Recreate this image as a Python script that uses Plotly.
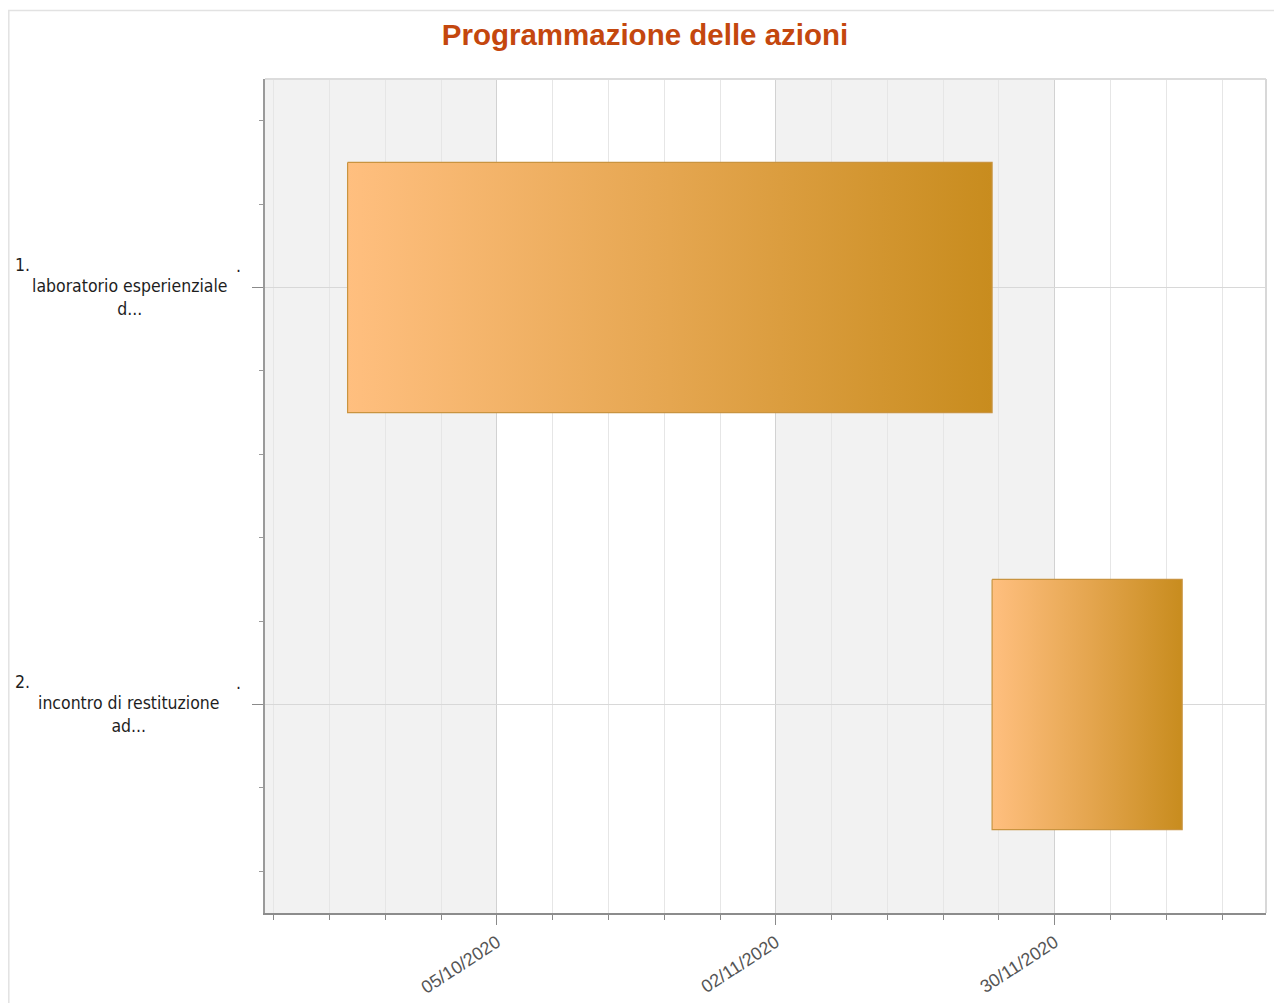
import plotly.graph_objects as go

# ---- data ----
task_numbers = ["1.", "2."]
task_labels = ["laboratorio esperienziale<br>d...", "incontro di restituzione<br>ad..."]
task_starts = ["2020-09-20 00:00", "2020-11-23 17:00"]
task_ends = ["2020-11-23 17:00", "2020-12-12 19:00"]
major_ticks = ["2020-10-05", "2020-11-02", "2020-11-30"]
x_range = ["2020-09-11 17:00", "2020-12-21 05:00"]
title_text = "Programmazione delle azioni"

# page offset of the figure (body margin)
OX, OY = 8, 8
W, H = 1274, 995
ML, MR, MT, MB = 257, 16, 71, 90
PW, PH = W - ML - MR, H - MT - MB

def px_x(px):  # page pixel -> paper x
    return (px - OX - ML) / PW

def px_y(py):  # page pixel -> paper y
    return (H - MB - (py - OY)) / PH

fig = go.Figure()

half = 0.3
for i, (s, e) in enumerate(zip(task_starts, task_ends)):
    fig.add_trace(go.Scatter(
        x=[s, e, e, s, s],
        y=[i - half, i - half, i + half, i + half, i - half],
        mode="lines",
        fill="toself",
        fillgradient=dict(type="horizontal",
                          colorscale=[[0, "#FFBF7F"], [0.5, "#E5A650"], [1, "#C88C1E"]]),
        line=dict(color="#C99440", width=1.2),
        hoverinfo="skip",
        showlegend=False,
    ))

shapes = []
band_edges = [x_range[0]] + major_ticks + [x_range[1]]
for k in range(0, len(band_edges) - 1, 2):
    shapes.append(dict(type="rect", xref="x", yref="paper",
                       x0=band_edges[k], x1=band_edges[k + 1], y0=0, y1=1,
                       fillcolor="#F2F2F2", line=dict(width=0), layer="below"))
shapes.append(dict(type="line", xref="paper", yref="paper", x0=0, x1=1, y0=1, y1=1,
                   line=dict(color="#DCDCDC", width=2), layer="above"))
shapes.append(dict(type="line", xref="paper", yref="paper", x0=1, x1=1, y0=0, y1=1,
                   line=dict(color="#D8D8D8", width=2), layer="above"))
shapes.append(dict(type="rect", xref="paper", yref="paper",
                   x0=px_x(8.8), x1=px_x(1300), y0=px_y(10.5), y1=px_y(1020),
                   line=dict(color="#E2E2E2", width=1.5), fillcolor="rgba(0,0,0,0)",
                   layer="below"))

annotations = []
lab_font = dict(family="DejaVu Sans Condensed", size=17.5, color="#1E1E1E")
for i, (num, lab) in enumerate(zip(task_numbers, task_labels)):
    annotations.append(dict(text=num, xref="paper", yref="y", x=px_x(13), y=i,
                            xanchor="left", yanchor="middle", yshift=23,
                            showarrow=False, font=lab_font))
    annotations.append(dict(text=".", xref="paper", yref="y", x=px_x(238), y=i,
                            xanchor="center", yanchor="middle", yshift=22,
                            showarrow=False, font=lab_font))
    annotations.append(dict(text=lab, xref="paper", yref="y", x=px_x(129), y=i,
                            xanchor="center", yanchor="top", yshift=14,
                            showarrow=False, font=lab_font, align="center"))

fig.update_layout(
    width=W, height=H,
    margin=dict(l=ML, r=MR, t=MT, b=MB, autoexpand=False),
    paper_bgcolor="white",
    plot_bgcolor="white",
    title=dict(text="<b>" + title_text + "</b>", x=(645 - OX) / W, xanchor="center",
               y=1 - (35 - OY) / H, yanchor="middle",
               font=dict(family="Liberation Sans", size=29.5, color="#C4470E")),
    shapes=shapes,
    annotations=annotations,
    showlegend=False,
)

fig.update_xaxes(
    type="date",
    automargin=False,
    range=x_range,
    tick0=major_ticks[0],
    dtick=28 * 86400000,
    tickformat="%d/%m/%Y",
    tickangle=-33,
    tickfont=dict(family="Liberation Sans", size=18, color="#555555"),
    ticks="outside", ticklen=10, tickcolor="#8A8A8A", tickwidth=1,
    showgrid=True, gridcolor="#D2D2D2", gridwidth=1,
    showline=True, linecolor="#8C8C8C", linewidth=2,
    minor=dict(dtick=5.6 * 86400000, tick0=major_ticks[0], ticks="outside",
               ticklen=5, tickcolor="#8A8A8A", showgrid=True,
               gridcolor="#E6E6E6", gridwidth=1),
    zeroline=False,
)

fig.update_yaxes(
    automargin=False,
    range=[1.5, -0.5],
    tickvals=list(range(len(task_labels))),
    ticktext=["" for _ in task_labels],
    ticks="outside", ticklen=11, tickcolor="#8A8A8A",
    showgrid=True, gridcolor="#D8D8D8", gridwidth=1,
    showline=True, linecolor="#9A9A9A", linewidth=2,
    minor=dict(dtick=0.2, tick0=0, ticks="outside", ticklen=4,
               tickcolor="#9A9A9A", showgrid=False),
    zeroline=False,
)

fig.write_html("out.html")
